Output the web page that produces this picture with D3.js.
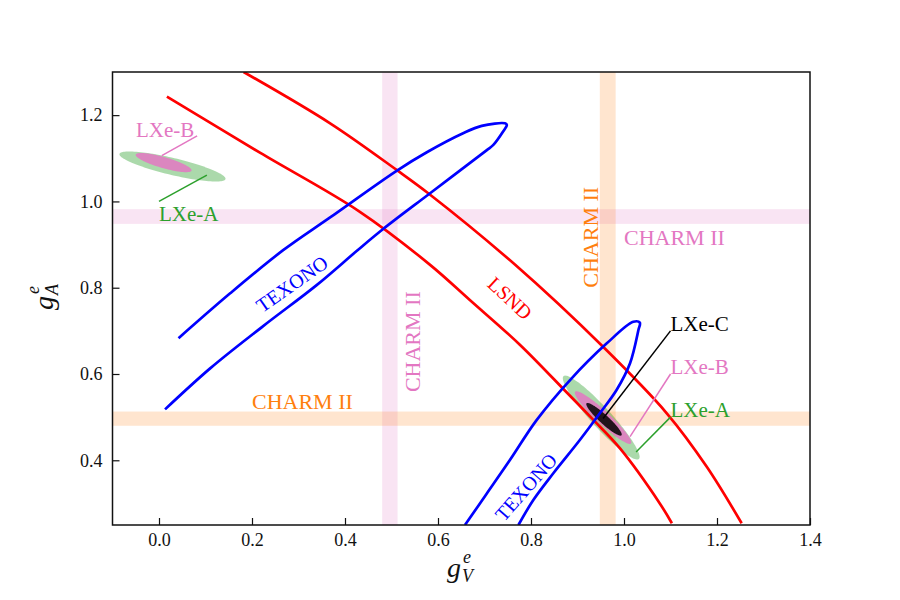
<!doctype html>
<html lang="en">
<head>
<meta charset="utf-8">
<title>gV - gA couplings</title>
<script src="https://cdnjs.cloudflare.com/ajax/libs/d3/7.8.5/d3.min.js"></script>
<style>
    body { margin: 0; background: #fff; }
    svg text { font-family: "Liberation Serif", "DejaVu Serif", serif; }
    .axis line { stroke: #111; stroke-width: 1.2; }
</style>
</head>
<body>
<div id="chart"></div>
<script>

// axes
var xDomain = [-0.1, 1.4];
var yDomain = [0.25, 1.3];
var xTicks = [0.0, 0.2, 0.4, 0.6, 0.8, 1.0, 1.2, 1.4];
var yTicks = [0.4, 0.6, 0.8, 1.0, 1.2];

// LSND band edges, [gV, gA]
var lsndOuter = [[0.182, 1.300], [0.368, 1.181], [0.511, 1.073], [0.579, 1.019], [0.766, 0.853],
                 [0.955, 0.663], [1.092, 0.509], [1.178, 0.385], [1.253, 0.254]];
var lsndInner = [[0.017, 1.243], [0.217, 1.113], [0.432, 0.976], [0.583, 0.853], [0.669, 0.771],
                 [0.776, 0.668], [0.877, 0.557], [0.931, 0.497], [0.991, 0.428], [1.077, 0.300], [1.103, 0.254]];

// TEXONO contours, [gV, gA]
var texonoA = [[0.042, 0.683], [0.153, 0.787], [0.267, 0.887], [0.368, 0.963],
               [0.511, 1.071], [0.576, 1.114], [0.654, 1.158], [0.694, 1.175], [0.744, 1.181],
               [0.748, 1.177], [0.740, 1.162], [0.719, 1.131], [0.705, 1.119], [0.583, 1.019],
               [0.482, 0.936], [0.425, 0.885], [0.339, 0.806], [0.224, 0.711], [0.110, 0.613], [0.013, 0.518]];
var texonoB = [[0.658, 0.250], [0.705, 0.323], [0.755, 0.401], [0.812, 0.493], [0.884, 0.586],
               [0.963, 0.671], [1.020, 0.721], [1.034, 0.719], [1.031, 0.702], [1.013, 0.625],
               [0.984, 0.563], [0.948, 0.509], [0.905, 0.447], [0.848, 0.370], [0.805, 0.308], [0.773, 0.250]];

// CHARM II bands, [low, high]
var charmPinkGA = [0.948, 0.982];
var charmPinkGV = [0.480, 0.513];
var charmOrangeGA = [0.480, 0.513];
var charmOrangeGV = [0.948, 0.982];

// LXe ellipses: name, centre, half major axis, half minor axis (data units)
var lxeNames   = ["LXe-A", "LXe-B", "LXe-A", "LXe-B", "LXe-C"];
var lxeCenters = [[0.029, 1.081], [0.010, 1.090], [0.951, 0.499], [0.955, 0.499], [0.957, 0.495]];
var lxeMajor   = [[0.114, -0.029], [0.060, -0.0185], [0.081, -0.096], [0.060, -0.060], [0.0376, -0.0371]];
var lxeMinor   = [[-0.0042, -0.0192], [-0.0032, -0.0123], [-0.016, -0.0155], [-0.0095, -0.011], [-0.0065, -0.0077]];

// LXe annotations: leader line from, to (text sits at "to")
var lxeLabelFrom = [[0.103, 1.061], [0.006, 1.106], [1.026, 0.419], [1.013, 0.455], [0.955, 0.497]];
var lxeLabelTo   = [[0.000, 1.000], [0.082, 1.152], [1.100, 0.500], [1.100, 0.600], [1.100, 0.700]];

var colors = {
    "LXe-A": "#2ca02c",
    "LXe-B": "#e377c2",
    "LXe-C": "#000000"
};

var width = 900, height = 600;
var plot = {left: 112.5, right: 810, top: 72, bottom: 525};
var serif = "Liberation Serif, DejaVu Serif, serif";

var x = d3.scaleLinear().domain(xDomain).range([plot.left, plot.right]);
var y = d3.scaleLinear().domain(yDomain).range([plot.bottom, plot.top]);

var svg = d3.select("#chart").append("svg")
    .attr("width", width)
    .attr("height", height);

svg.append("defs").append("clipPath")
    .attr("id", "clip")
  .append("rect")
    .attr("x", plot.left)
    .attr("y", plot.top)
    .attr("width", plot.right - plot.left)
    .attr("height", plot.bottom - plot.top);

var area = svg.append("g").attr("clip-path", "url(#clip)");

// CHARM II bands
function hBand(band, color) {
    area.append("rect")
        .attr("x", plot.left)
        .attr("width", plot.right - plot.left)
        .attr("y", y(band[1]))
        .attr("height", y(band[0]) - y(band[1]))
        .attr("fill", color)
        .attr("fill-opacity", 0.2);
}
function vBand(band, color) {
    area.append("rect")
        .attr("y", plot.top)
        .attr("height", plot.bottom - plot.top)
        .attr("x", x(band[0]))
        .attr("width", x(band[1]) - x(band[0]))
        .attr("fill", color)
        .attr("fill-opacity", 0.2);
}
hBand(charmPinkGA, "#e377c2");
vBand(charmPinkGV, "#e377c2");
hBand(charmOrangeGA, "#ff7f0e");
vBand(charmOrangeGV, "#ff7f0e");

// LXe ellipses
var ellipseLine = d3.line()
    .x(function(d) { return x(d[0]); })
    .y(function(d) { return y(d[1]); })
    .curve(d3.curveLinearClosed);

var fillOpacity = {"LXe-A": 0.4, "LXe-B": 0.85, "LXe-C": 0.85};

lxeNames.forEach(function(name, i) {
    var c = lxeCenters[i], u = lxeMajor[i], v = lxeMinor[i];
    var pts = d3.range(0, 2 * Math.PI, Math.PI / 60).map(function(t) {
        return [c[0] + Math.cos(t) * u[0] + Math.sin(t) * v[0],
                c[1] + Math.cos(t) * u[1] + Math.sin(t) * v[1]];
    });
    area.append("path")
        .attr("d", ellipseLine(pts))
        .attr("fill", colors[name])
        .attr("fill-opacity", fillOpacity[name])
        .attr("stroke", "none");
});

// contours
var line = d3.line()
    .x(function(d) { return x(d[0]); })
    .y(function(d) { return y(d[1]); })
    .curve(d3.curveCatmullRom.alpha(0.5));

[lsndOuter, lsndInner].forEach(function(d) {
    area.append("path")
        .attr("d", line(d))
        .attr("fill", "none")
        .attr("stroke", "#ff0000")
        .attr("stroke-width", 2.7);
});

[texonoA, texonoB].forEach(function(d) {
    area.append("path")
        .attr("d", line(d))
        .attr("fill", "none")
        .attr("stroke", "#0000ff")
        .attr("stroke-width", 2.7)
        .attr("stroke-linejoin", "round");
});

// leader lines and LXe labels
lxeNames.forEach(function(name, i) {
    var a = lxeLabelFrom[i], b = lxeLabelTo[i];
    area.append("line")
        .attr("x1", x(a[0])).attr("y1", y(a[1]))
        .attr("x2", x(b[0])).attr("y2", y(b[1]))
        .attr("stroke", colors[name])
        .attr("stroke-width", 1.5);
});

function label(txt, pos, color, size, anchor, angle, baseline) {
    var t = svg.append("text")
        .attr("transform", "translate(" + x(pos[0]) + "," + y(pos[1]) + ") rotate(" + (angle || 0) + ")")
        .attr("fill", color)
        .attr("font-family", serif)
        .attr("font-size", size)
        .attr("text-anchor", anchor || "start")
        .text(txt);
    if (baseline) t.attr("dominant-baseline", baseline);
    return t;
}

label("LXe-A", [0.0, 1.0], colors["LXe-A"], 21, "start").attr("dy", "0.95em");
label("LXe-B", [0.076, 1.149], colors["LXe-B"], 21, "end");
label("LXe-A", [1.1, 0.5], colors["LXe-A"], 21, "start");
label("LXe-B", [1.1, 0.6], colors["LXe-B"], 21, "start");
label("LXe-C", [1.1, 0.7], colors["LXe-C"], 21, "start");

// band and contour labels
label("CHARM II", [0.2, 0.52], "#ff7f0e", 22, "start");
label("CHARM II", [1.0, 0.9], "#e377c2", 22, "start");
label("CHARM II", [0.945, 0.8], "#ff7f0e", 22, "start", -90);
label("CHARM II", [0.561, 0.558], "#e377c2", 22, "start", -90);
label("TEXONO", [0.286, 0.809], "#0000ff", 20, "middle", -35, "central");
label("TEXONO", [0.789, 0.338], "#0000ff", 20, "middle", -48.6, "central");
label("LSND", [0.755, 0.776], "#ff0000", 20, "middle", 43, "central");

// axes
var xAxis = d3.axisBottom(x)
    .tickValues(xTicks)
    .tickFormat(d3.format(".1f"))
    .tickSizeInner(-7)
    .tickSizeOuter(0)
    .tickPadding(8);
var yAxis = d3.axisLeft(y)
    .tickValues(yTicks)
    .tickFormat(d3.format(".1f"))
    .tickSizeInner(-7)
    .tickSizeOuter(0)
    .tickPadding(10);

svg.append("g")
    .attr("class", "x axis")
    .attr("transform", "translate(0," + plot.bottom + ")")
    .call(xAxis);
svg.append("g")
    .attr("class", "y axis")
    .attr("transform", "translate(" + plot.left + ",0)")
    .call(yAxis);
svg.selectAll(".axis")
    .attr("font-family", serif)
    .attr("font-size", 18);
svg.selectAll(".axis text").attr("fill", "#111");
svg.selectAll(".axis .domain").remove();

// frame
svg.append("rect")
    .attr("x", plot.left)
    .attr("y", plot.top)
    .attr("width", plot.right - plot.left)
    .attr("height", plot.bottom - plot.top)
    .attr("fill", "none")
    .attr("stroke", "#111")
    .attr("stroke-width", 1.5);

// axis titles  g_V^e and g_A^e
var xl = svg.append("text").attr("transform", "translate(447,577)").attr("fill", "#111").attr("font-family", serif);
xl.append("tspan").attr("font-style", "italic").attr("font-size", 28).text("g");
xl.append("tspan").attr("font-style", "italic").attr("font-size", 18).attr("x", 16).attr("y", -14).text("e");
xl.append("tspan").attr("font-style", "italic").attr("font-size", 18).attr("x", 15).attr("y", 5).text("V");

var yl = svg.append("text").attr("transform", "translate(53,310) rotate(-90)").attr("fill", "#111").attr("font-family", serif);
yl.append("tspan").attr("font-style", "italic").attr("font-size", 28).text("g");
yl.append("tspan").attr("font-style", "italic").attr("font-size", 18).attr("x", 16).attr("y", -14).text("e");
yl.append("tspan").attr("font-style", "italic").attr("font-size", 18).attr("x", 15).attr("y", 5).text("A");

</script>
</body>
</html>
